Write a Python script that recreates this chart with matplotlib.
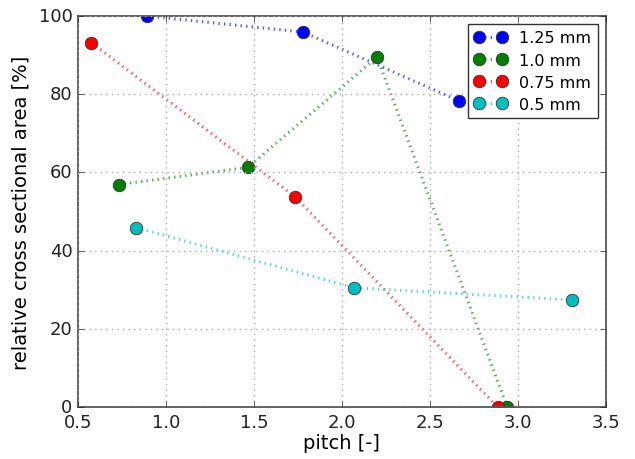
import matplotlib
matplotlib.use("Agg")
import matplotlib.pyplot as plt

plt.style.use("classic")
plt.rcParams["font.family"] = ["DejaVu Sans"]

labels = ["1.25 mm", "1.0 mm", "0.75 mm", "0.5 mm"]
marker_colors = ["#0000ff", "#007f00", "#ff0000", "#00bfbf"]

x_125 = [0.89, 1.78, 2.665]
y_125 = [100.0, 95.9, 78.3]

x_100 = [0.733, 1.466, 2.20, 2.94]
y_100 = [56.9, 61.3, 89.5, 0.0]

x_075 = [0.576, 1.733, 2.885]
y_075 = [93.2, 53.8, 0.0]

x_050 = [0.83, 2.07, 3.31]
y_050 = [45.9, 30.5, 27.4]

series = [(x_125, y_125), (x_100, y_100), (x_075, y_075), (x_050, y_050)]

fig = plt.figure(figsize=(6.35, 4.6), dpi=100, facecolor="white")
ax = fig.add_axes([0.1228, 0.113, 0.8312, 0.850])
ax.set_facecolor("white")

for (xs, ys), c, lab in zip(series, marker_colors, labels):
    rgba = matplotlib.colors.to_rgba(c, 0.65)
    ax.plot(xs, ys, linestyle=":", color=rgba, linewidth=2.2,
            marker="o", markersize=9, markeredgecolor="#333333",
            markeredgewidth=0.6, markerfacecolor=c, label=lab, clip_on=True)

ax.set_xlim(0.5, 3.5)
ax.set_ylim(0, 100)
ax.set_xticks([0.5, 1.0, 1.5, 2.0, 2.5, 3.0, 3.5])
ax.set_yticks([0, 20, 40, 60, 80, 100])
ax.grid(True, linestyle=":", color="#aaaaaa", linewidth=1)
ax.tick_params(labelsize=13, colors="#222222", direction="in")
for s in ax.spines.values():
    s.set_color("#555555")
    s.set_linewidth(1.3)
ax.set_xlabel("pitch [-]", fontsize=14, labelpad=2)
ax.set_ylabel("relative cross sectional area [%]", fontsize=14, labelpad=6)

leg = ax.legend(loc="upper right", numpoints=2, fontsize=11.5, frameon=True,
                fancybox=False, borderaxespad=0.5, labelspacing=0.45,
                handlelength=2.0)
leg.get_frame().set_edgecolor("#333333")

fig.savefig("out.png", dpi=100, facecolor="white")
